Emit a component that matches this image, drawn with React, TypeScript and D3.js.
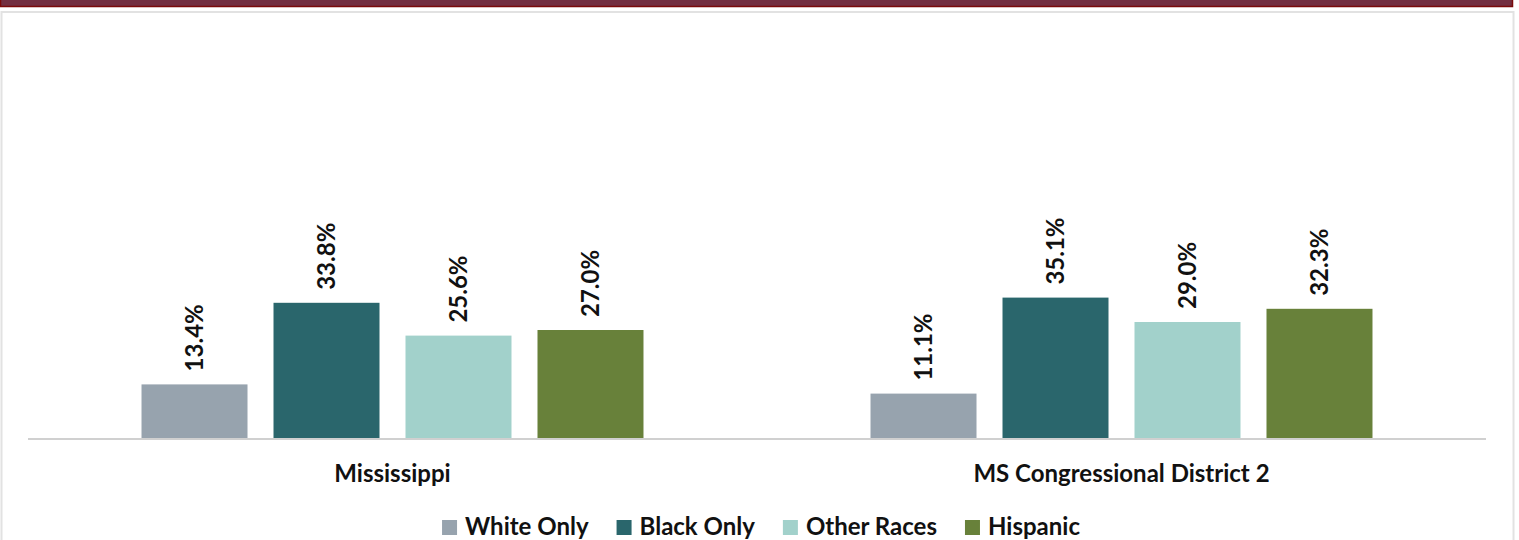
import React, { useEffect, useRef } from 'react';
import * as d3 from 'd3';

const groups = ['Mississippi', 'MS Congressional District 2'];
const races = ['White Only', 'Black Only', 'Other Races', 'Hispanic'];
const mississippi = [13.4, 33.8, 25.6, 27.0];
const district2 = [11.1, 35.1, 29.0, 32.3];
const colors = ['#97a3ae', '#2a666c', '#a2d1cb', '#68813a'];

const W = 1519;
const H = 540;
const FONT = 'Lato, "Open Sans", sans-serif';

const App: React.FC = () => {
  const ref = useRef<SVGSVGElement>(null);

  useEffect(() => {
    document.body.style.margin = '0';
    if (!ref.current) return;
    const svg = d3.select(ref.current);
    svg.selectAll('*').remove();

    const rows = groups.map((g, i) => ({
      group: g,
      values: i === 0 ? mississippi : district2,
    }));

    // frame: maroon header band + light grey panel border
    svg
      .append('rect')
      .attr('x', 0.5)
      .attr('y', -2)
      .attr('width', 1512)
      .attr('height', 8.5)
      .attr('fill', '#722e40')
      .attr('stroke', '#7a0a0a')
      .attr('stroke-width', 1.5);
    svg
      .append('rect')
      .attr('x', 1.5)
      .attr('y', 12)
      .attr('width', 1512)
      .attr('height', 540)
      .attr('fill', 'none')
      .attr('stroke', '#e2e2e2')
      .attr('stroke-width', 2);

    const left = 28;
    const right = 1486;
    const base = 438;

    const x0 = d3.scaleBand<string>().domain(groups).range([left, right]);
    const x1 = d3
      .scaleBand<string>()
      .domain(races)
      .range([0, x0.bandwidth()])
      .paddingInner(0.197)
      .paddingOuter(0.86);
    const y = d3.scaleLinear().domain([0, 40]).range([base, base - 160]);

    const g = svg
      .selectAll('.grp')
      .data(rows)
      .enter()
      .append('g')
      .attr('class', 'grp')
      .attr('transform', (d) => `translate(${x0(d.group)},0)`);

    g.selectAll('rect')
      .data((d) => d.values.map((v, i) => ({ race: races[i], v, c: colors[i] })))
      .enter()
      .append('rect')
      .attr('x', (d) => x1(d.race)!)
      .attr('y', (d) => y(d.v))
      .attr('width', x1.bandwidth())
      .attr('height', (d) => base - y(d.v))
      .attr('fill', (d) => d.c);

    g.selectAll('text.val')
      .data((d) => d.values.map((v, i) => ({ race: races[i], v })))
      .enter()
      .append('text')
      .attr('class', 'val')
      .attr(
        'transform',
        (d) => `translate(${x1(d.race)! + x1.bandwidth() / 2},${y(d.v) - 13}) rotate(-90)`
      )
      .attr('dy', '0.36em')
      .attr('font-family', FONT)
      .attr('font-weight', 700)
      .attr('font-size', 24)
      .attr('fill', '#111')
      .text((d) => `${d.v.toFixed(1)}%`);

    // axis line
    svg
      .append('line')
      .attr('x1', left)
      .attr('x2', right)
      .attr('y1', base + 1)
      .attr('y2', base + 1)
      .attr('stroke', '#d0d0d0')
      .attr('stroke-width', 2);

    // category labels
    svg
      .selectAll('text.cat')
      .data(groups)
      .enter()
      .append('text')
      .attr('class', 'cat')
      .attr('x', (d) => x0(d)! + x0.bandwidth() / 2)
      .attr('y', 482)
      .attr('text-anchor', 'middle')
      .attr('font-family', FONT)
      .attr('font-weight', 700)
      .attr('font-size', 24)
      .attr('fill', '#111')
      .text((d) => d);

    // legend, laid out by measured text widths and centred
    const leg = svg.append('g');
    const sw = 15;
    const gapText = 8;
    const gapItem = 28;
    let cx = 0;
    races.forEach((r, i) => {
      const item = leg.append('g').attr('transform', `translate(${cx},0)`);
      item
        .append('rect')
        .attr('x', 0)
        .attr('y', 520)
        .attr('width', sw)
        .attr('height', sw)
        .attr('fill', colors[i]);
      const t = item
        .append('text')
        .attr('x', sw + gapText)
        .attr('y', 535)
        .attr('font-family', FONT)
        .attr('font-weight', 700)
        .attr('font-size', 24)
        .attr('fill', '#111')
        .text(r);
      const tw = (t.node() as SVGTextElement).getComputedTextLength();
      cx += sw + gapText + tw + gapItem;
    });
    const total = cx - gapItem;
    leg.attr('transform', `translate(${761 - total / 2},0)`);
  }, []);

  return <svg ref={ref} width={W} height={H} style={{ display: 'block', background: '#fff' }} />;
};

export default App;
